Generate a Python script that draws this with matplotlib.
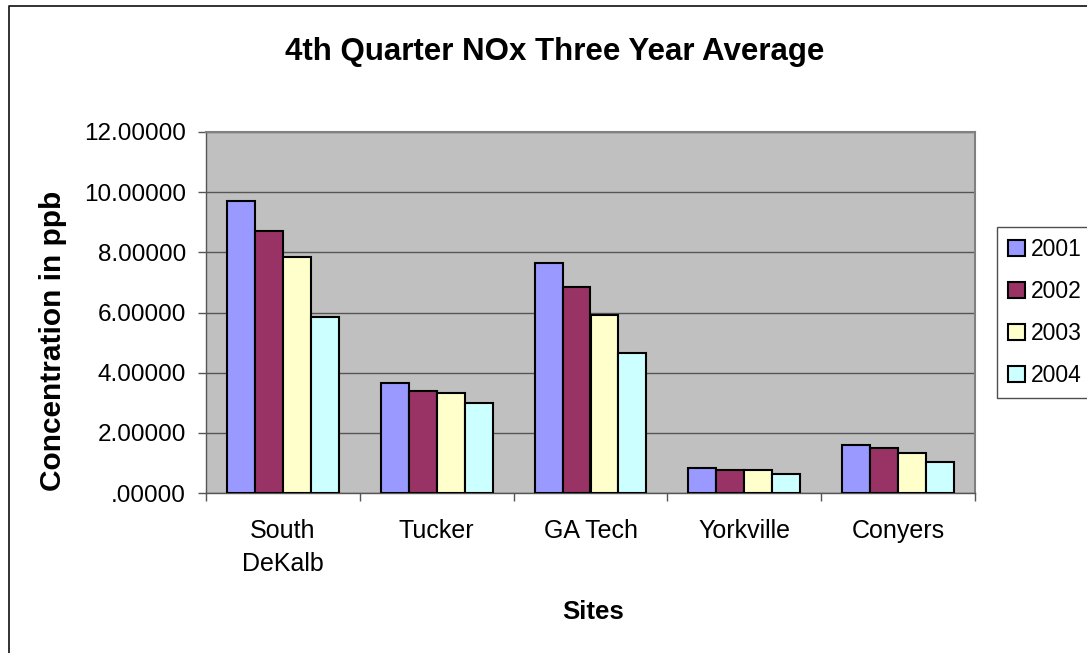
import matplotlib
matplotlib.use("Agg")
import matplotlib.pyplot as plt
import numpy as np
from matplotlib.lines import Line2D
from matplotlib.ticker import FuncFormatter

plt.rcParams['font.family'] = ['Liberation Sans', 'DejaVu Sans']

sites = ["South\nDeKalb", "Tucker", "GA Tech", "Yorkville", "Conyers"]
years = ["2001", "2002", "2003", "2004"]
v2001 = [9.72, 3.64, 7.64, 0.84, 1.58]
v2002 = [8.71, 3.38, 6.84, 0.78, 1.51]
v2003 = [7.86, 3.31, 5.91, 0.78, 1.32]
v2004 = [5.84, 2.98, 4.64, 0.64, 1.04]
series = [v2001, v2002, v2003, v2004]
colors = ["#9999FF", "#993366", "#FFFFCC", "#CCFFFF"]

W, H = 1087, 653
fig = plt.figure(figsize=(W/100, H/100), dpi=100)
fig.patch.set_facecolor("white")

# outer chart border (only left and top edges fall inside the picture)
fig.add_artist(Line2D([9/W, 9/W, 1.0], [0.0, 1 - 6/H, 1 - 6/H], transform=fig.transFigure,
                      color="#222222", linewidth=1.3))

ax = fig.add_axes([206/W, 1 - 493/H, (975-206)/W, (493-132)/H])
ax.set_facecolor("#C0C0C0")

n = len(sites)
x = np.arange(n)
bw = 0.1815
for i, (vals, c, y) in enumerate(zip(series, colors, years)):
    ax.bar(x + (i - 1.5) * bw, vals, bw, color=c, edgecolor="black", linewidth=1.5,
           label=y, zorder=3)

ax.set_xlim(-0.5, n - 0.5)
ax.set_ylim(0, 12)
ax.set_yticks(np.arange(0, 13, 2))
ax.yaxis.set_major_formatter(FuncFormatter(lambda v, p: (".%s" % ("%.5f" % v).split(".")[1]) if v == 0 else "%.5f" % v))
ax.yaxis.grid(True, color="#555555", linewidth=1, zorder=1)
ax.set_axisbelow(True)
ax.set_xticks(x)
ax.set_xticklabels(sites, fontsize=18, linespacing=1.45)
ax.set_xticks(np.arange(-0.5, n, 1), minor=True)
ax.tick_params(axis="x", which="major", length=0, pad=19)
ax.tick_params(axis="x", which="minor", length=6, width=1, color="#555555", direction="out")
ax.tick_params(axis="y", labelsize=17.5, length=6, width=1, color="#555555", direction="out", pad=8.5)

for s in ["left", "bottom"]:
    ax.spines[s].set_color("#555555")
    ax.spines[s].set_linewidth(1)
for s in ["top", "right"]:
    ax.spines[s].set_color("#808080")
    ax.spines[s].set_linewidth(1.5)

fig.text(555/W, 1 - 60/H, "4th Quarter NOx Three Year Average", ha="center", va="baseline",
         fontsize=22.5, fontweight="bold")
fig.text(593/W, 1 - 619/H, "Sites", ha="center", va="baseline", fontsize=18.5, fontweight="bold")
fig.text(61/W, 1 - 341/H, "Concentration in ppb", ha="center", va="baseline", rotation=90,
         rotation_mode="anchor", fontsize=21.5, fontweight="bold")

leg = fig.legend(loc="upper left", bbox_to_anchor=(997/W, 1 - 227/H), frameon=True,
                 fontsize=16.5, handlelength=0.7, handleheight=0.7, handletextpad=0.28,
                 labelspacing=0.82, borderpad=0.5, borderaxespad=0, fancybox=False)
leg.get_frame().set_edgecolor("#222222")
leg.get_frame().set_linewidth(1)

fig.savefig("out.png", dpi=100)
